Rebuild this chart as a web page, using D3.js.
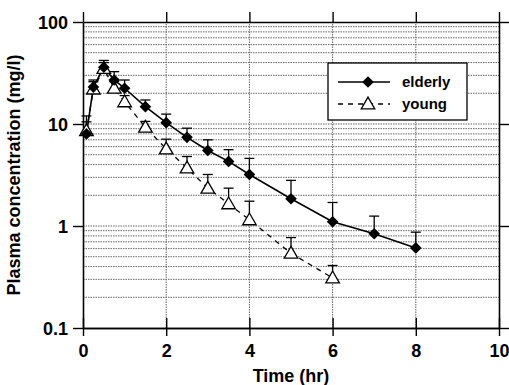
<!DOCTYPE html>
<html>
<head>
<meta charset="utf-8">
<script src="https://cdn.jsdelivr.net/npm/d3@7"></script>
<style>
  body { margin: 0; background: #fff; }
  text { font-family: "Liberation Sans", Arial, sans-serif; font-weight: bold; fill: #000; }
</style>
</head>
<body>
<div id="chart"></div>
<script>
// Dimensions
const width = 509;
const height = 385;
const margin = { top: 22, right: 10, bottom: 57, left: 83 };

// Data
const elderlyTime = [0.083, 0.25, 0.5, 0.75, 1, 1.5, 2, 2.5, 3, 3.5, 4, 5, 6, 7, 8];
const elderlyConc = [8, 23, 36, 27, 22.4, 14.8, 10.3, 7.4, 5.5, 4.3, 3.2, 1.85, 1.1, 0.84, 0.61];
const elderlyUpper = [10.5, 27, 42, 32.6, 27, 17.2, 12.5, 9.1, 7.0, 5.6, 4.6, 2.8, 1.7, 1.25, 0.87];

const youngTime = [0.083, 0.25, 0.5, 0.75, 1, 1.5, 2, 2.5, 3, 3.5, 4, 5, 6];
const youngConc = [8.6, 22, 35, 22.4, 16.5, 9.3, 5.7, 3.7, 2.35, 1.65, 1.15, 0.54, 0.31];
const youngUpper = [12, 26, 40, 26, 19, 10.6, 7.1, 4.8, 3.2, 2.35, 1.75, 0.77, 0.41];

const xTicks = [0, 2, 4, 6, 8, 10];
const yTicks = [0.1, 1, 10, 100];
const yTickLabels = ["0.1", "1", "10", "100"];
const legendLabels = ["elderly", "young"];

const elderly = elderlyTime.map((t, i) => ({ t, c: elderlyConc[i], u: elderlyUpper[i] }));
const young = youngTime.map((t, i) => ({ t, c: youngConc[i], u: youngUpper[i] }));

// Scales
const x = d3.scaleLinear().domain([0, 10]).range([margin.left, width - margin.right]);
const y = d3.scaleLog().domain([0.1, 100]).range([height - margin.bottom, margin.top]);

const svg = d3.select("#chart").append("svg")
  .attr("width", width)
  .attr("height", height);

const x0 = x.range()[0], x1 = x.range()[1];
const y0 = y.range()[0], y1 = y.range()[1];

// Grid lines (dotted)
const yGrid = [];
[0.1, 1, 10].forEach(d => { for (let k = 1; k <= 9; k++) yGrid.push(d * k); });
svg.append("g").selectAll("line")
  .data(yGrid.filter(v => v > 0.1 + 1e-9))
  .join("line")
  .attr("x1", x0).attr("x2", x1)
  .attr("y1", d => y(d)).attr("y2", d => y(d))
  .attr("stroke", "#666")
  .attr("stroke-width", 1)
  .attr("stroke-dasharray", "1.5,1");

svg.append("g").selectAll("line")
  .data([2, 4, 6, 8])
  .join("line")
  .attr("x1", d => x(d)).attr("x2", d => x(d))
  .attr("y1", y0).attr("y2", y1)
  .attr("stroke", "#666")
  .attr("stroke-width", 1)
  .attr("stroke-dasharray", "1.5,1");

// Axes
const axisStyle = g => {
  g.selectAll(".domain").attr("stroke", "#000").attr("stroke-width", 1.6);
  g.selectAll(".tick line").attr("stroke", "#000").attr("stroke-width", 1.4);
};

svg.append("g")
  .attr("transform", `translate(0,${y0})`)
  .call(d3.axisBottom(x).tickValues(xTicks).tickSize(8).tickSizeOuter(0).tickPadding(6))
  .call(axisStyle)
  .call(g => g.selectAll(".tick text").attr("font-size", 18).attr("dy", "0.85em"));

svg.append("g")
  .attr("transform", `translate(0,${y0})`)
  .call(d3.axisBottom(x).tickValues(xTicks).tickSize(-10).tickSizeOuter(0).tickFormat(""))
  .call(axisStyle);

svg.append("g")
  .attr("transform", `translate(0,${y1})`)
  .call(d3.axisTop(x).tickValues(xTicks).tickSize(10).tickSizeOuter(0).tickFormat(""))
  .call(axisStyle);

svg.append("g")
  .attr("transform", `translate(${x0},0)`)
  .call(d3.axisLeft(y).tickValues(yTicks).tickSize(10).tickSizeOuter(0).tickPadding(5)
    .tickFormat((d, i) => yTickLabels[i]))
  .call(axisStyle)
  .call(g => g.selectAll(".tick text").attr("font-size", 18).attr("dy", "0.36em"));

svg.append("g")
  .attr("transform", `translate(${x1},0)`)
  .call(d3.axisRight(y).tickValues(yTicks).tickSize(10).tickSizeOuter(0).tickFormat(""))
  .call(axisStyle);

// Axis titles
svg.append("text")
  .attr("x", (x0 + x1) / 2)
  .attr("y", 382)
  .attr("text-anchor", "middle")
  .attr("font-size", 18)
  .text("Time (hr)");

svg.append("text")
  .attr("transform", `translate(20,${(y0 + y1) / 2}) rotate(-90)`)
  .attr("text-anchor", "middle")
  .attr("font-size", 18)
  .text("Plasma concentration (mg/l)");

// Lines
const line = d3.line().x(d => x(d.t)).y(d => y(d.c));

svg.append("path")
  .datum(young)
  .attr("fill", "none")
  .attr("stroke", "#000")
  .attr("stroke-width", 1.3)
  .attr("stroke-dasharray", "5,5")
  .attr("d", line);

svg.append("path")
  .datum(elderly)
  .attr("fill", "none")
  .attr("stroke", "#000")
  .attr("stroke-width", 1.6)
  .attr("d", line);

// Error bars (upper only)
function errorBars(data) {
  const g = svg.append("g").attr("stroke", "#000").attr("stroke-width", 1.3);
  g.selectAll(".v").data(data).join("line")
    .attr("x1", d => x(d.t)).attr("x2", d => x(d.t))
    .attr("y1", d => y(d.c)).attr("y2", d => y(d.u));
  g.selectAll(".c").data(data).join("line")
    .attr("x1", d => x(d.t) - 5).attr("x2", d => x(d.t) + 5)
    .attr("y1", d => y(d.u)).attr("y2", d => y(d.u));
}
errorBars(young);
errorBars(elderly);

// Markers
const tri = d3.symbol().type(d3.symbolTriangle).size(80);
const dia = d3.symbol().type(d3.symbolSquare).size(68);

svg.append("g").selectAll("path")
  .data(young)
  .join("path")
  .attr("transform", d => `translate(${x(d.t)},${y(d.c) + 1})`)
  .attr("d", tri)
  .attr("fill", "#fff")
  .attr("stroke", "#000")
  .attr("stroke-width", 1.3);

svg.append("g").selectAll("path")
  .data(elderly)
  .join("path")
  .attr("transform", d => `translate(${x(d.t)},${y(d.c)}) rotate(45)`)
  .attr("d", dia)
  .attr("fill", "#000");

// Legend
const legend = svg.append("g").attr("transform", "translate(328,63)");
legend.append("rect")
  .attr("width", 139).attr("height", 57)
  .attr("fill", "#fff").attr("stroke", "#000").attr("stroke-width", 1.3);

const rows = legend.selectAll(".row")
  .data(legendLabels)
  .join("g")
  .attr("transform", (d, i) => `translate(0,${19 + i * 22})`);

rows.append("line")
  .attr("x1", 10).attr("x2", 62)
  .attr("stroke", "#000")
  .attr("stroke-width", (d, i) => i === 0 ? 1.6 : 1.3)
  .attr("stroke-dasharray", (d, i) => i === 0 ? null : "5,5");

rows.append("path")
  .attr("transform", (d, i) => i === 0 ? "translate(40,0) rotate(45)" : "translate(40,1)")
  .attr("d", (d, i) => i === 0 ? dia() : tri())
  .attr("fill", (d, i) => i === 0 ? "#000" : "#fff")
  .attr("stroke", (d, i) => i === 0 ? "none" : "#000")
  .attr("stroke-width", 1.3);

rows.append("text")
  .attr("x", 74)
  .attr("dy", "0.35em")
  .attr("font-size", 15)
  .text(d => d);
</script>
</body>
</html>
